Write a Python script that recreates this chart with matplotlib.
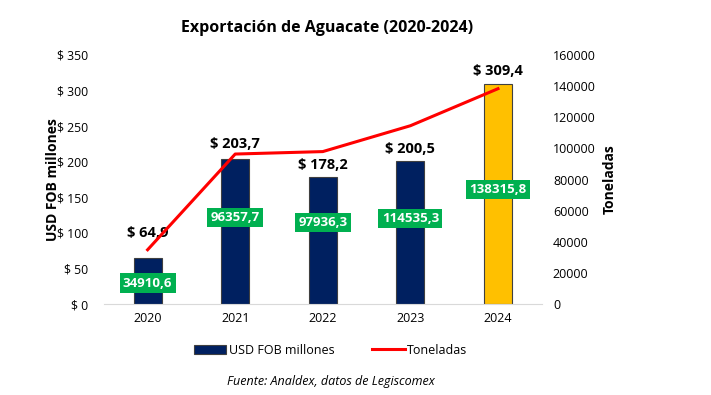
import matplotlib
matplotlib.use("Agg")
import matplotlib.pyplot as plt
import numpy as np

plt.rcParams['font.family'] = ['Open Sans', 'DejaVu Sans']

years = ["2020", "2021", "2022", "2023", "2024"]
usd_fob = [64.9, 203.7, 178.2, 200.5, 309.4]
toneladas = [34910.6, 96357.7, 97936.3, 114535.3, 138315.8]
usd_labels = ["$ 64,9", "$ 203,7", "$ 178,2", "$ 200,5", "$ 309,4"]
ton_labels = ["34910,6", "96357,7", "97936,3", "114535,3", "138315,8"]
ton_label_y = [13500, 55500, 52500, 55000, 73500]
bar_colors = ["#002060", "#002060", "#002060", "#002060", "#FFC000"]

fig = plt.figure(figsize=(7.11, 3.95), dpi=100)
ax = fig.add_axes([0.146, 0.230, 0.616, 0.631])
x = np.arange(len(years))

ax.bar(x, usd_fob, width=0.32, color=bar_colors, edgecolor="#404040", linewidth=0.8,
       label="USD FOB millones", zorder=2)
ax.set_ylim(0, 350)
ax.set_xlim(-0.5, 4.5)
ax.set_yticks(range(0, 351, 50))
ax.set_yticklabels(["$ %d" % v for v in range(0, 351, 50)], fontsize=8.8)
ax.set_xticks(x)
ax.set_xticklabels(years, fontsize=9)
ax.tick_params(axis="x", length=0, pad=6)
ax.tick_params(axis="y", length=0, pad=11)
for s in ["top", "right", "left"]:
    ax.spines[s].set_visible(False)
ax.spines["bottom"].set_color("#d9d9d9")
ax.set_ylabel("USD FOB millones", fontsize=10, fontweight="bold", labelpad=-2)

offsets = [13, 6, 4, 4, 4]
for i, v in enumerate(usd_fob):
    ax.annotate(usd_labels[i], (x[i], v), xytext=(0, offsets[i]), textcoords="offset points",
                ha="center", va="bottom", fontsize=10.5, fontweight="bold")

ax2 = ax.twinx()
ax2.plot(x, toneladas, color="#FF0000", linewidth=2.2, label="Toneladas", zorder=3)
ax2.set_ylim(0, 160000)
ax2.set_yticks(range(0, 160001, 20000))
ax2.tick_params(length=0, labelsize=9, pad=8)
for s in ["top", "right", "left", "bottom"]:
    ax2.spines[s].set_visible(False)
ax2.set_ylabel("Toneladas", fontsize=10, fontweight="bold", labelpad=5)

for i in range(len(years)):
    ax2.text(x[i], ton_label_y[i], ton_labels[i], ha="center", va="center", color="white",
             fontsize=9.5, fontweight="bold", zorder=5,
             bbox=dict(boxstyle="square,pad=0.25", facecolor="#00B050", edgecolor="none"))

fig.text(0.46, 0.93, "Exportación de Aguacate (2020-2024)", ha="center", va="center",
         fontsize=11.5, fontweight="bold")

h1, l1 = ax.get_legend_handles_labels()
h2, l2 = ax2.get_legend_handles_labels()
fig.legend([h1[0], h2[0]], [l1[0], l2[0]], loc="center", bbox_to_anchor=(0.465, 0.113),
           ncol=2, frameon=False, fontsize=9, handlelength=2.6, handletextpad=0.2,
           columnspacing=3.0)

fig.text(0.465, 0.035, "Fuente: Analdex, datos de Legiscomex", ha="center", va="center",
         fontsize=9, style="italic")

fig.savefig("out.png", dpi=100)
